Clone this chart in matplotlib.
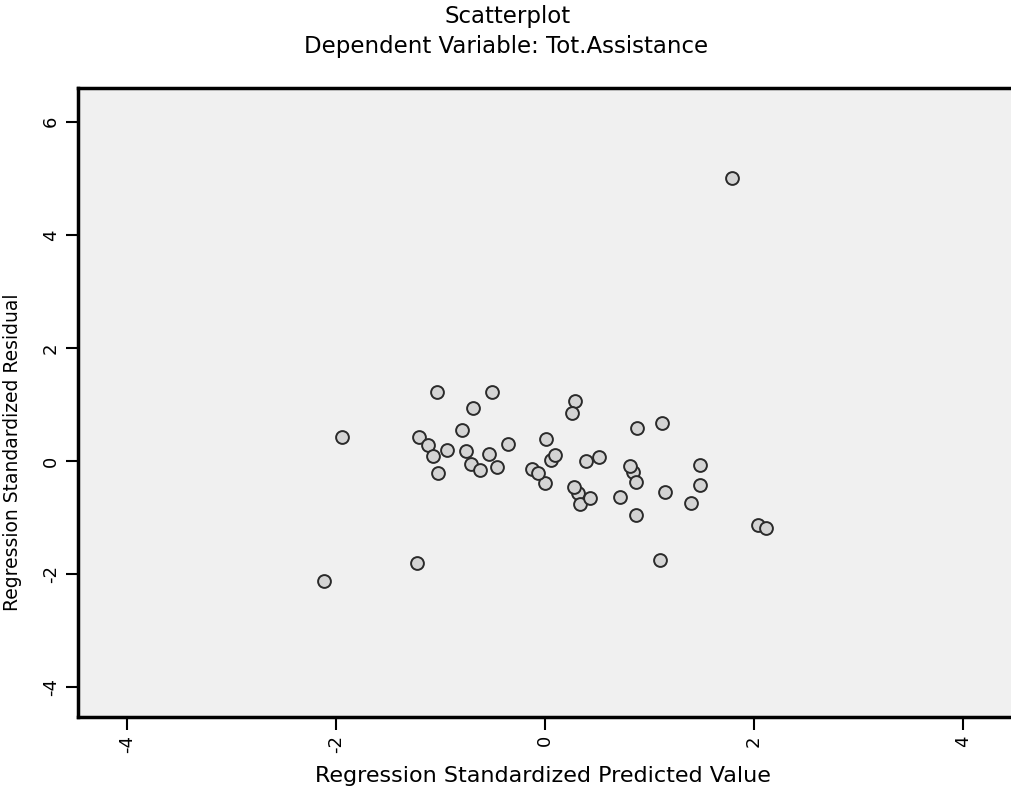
import numpy as np
import matplotlib
matplotlib.use("Agg")
import matplotlib.pyplot as plt

plt.rcParams['font.family'] = ['DejaVu Sans']

# Regression standardized predicted values (x) and residuals (y)
pred_std = [1.79, -1.94, -2.11, -1.22, 1.10,
            -1.03, -0.51, -0.69, -0.79, -1.21, -1.12, -0.94, -1.07, -1.02,
            -0.76, -0.71, -0.54, -0.46, -0.35, 0.01, -0.12, 0.06, 0.00,
            0.29, 0.26, 0.39, 0.52, 0.32, 0.34, 0.88, 1.12, 0.84, 0.87,
            0.72, 0.87, 1.15, 1.48, 1.48, 1.40, 2.04, 2.12,
            0.28, 0.10, -0.62, -0.07, 0.81, 0.43]
resid_std = [5.01, 0.42, -2.12, -1.81, -1.75,
             1.22, 1.22, 0.94, 0.55, 0.42, 0.28, 0.19, 0.09, -0.21,
             0.18, -0.05, 0.12, -0.11, 0.30, 0.39, -0.14, 0.02, -0.39,
             1.06, 0.85, 0.00, 0.07, -0.57, -0.76, 0.58, 0.67, -0.19, -0.37,
             -0.64, -0.96, -0.55, -0.07, -0.42, -0.74, -1.13, -1.19,
             -0.46, 0.11, -0.16, -0.21, -0.09, -0.65]

x_ticks = [-4, -2, 0, 2, 4]
y_ticks = [-4, -2, 0, 2, 4, 6]

fig = plt.figure(figsize=(10.11, 7.98), dpi=100)
ax = fig.add_axes([0.077, 0.1015, 0.923, 0.7885])
ax.set_facecolor('#f0f0f0')

ax.scatter(pred_std, resid_std, s=85, facecolors='#d4d4d4',
           edgecolors='#2a2a2a', linewidths=1.4, zorder=3)

ax.set_xlim(-4.47, 4.46)
ax.set_ylim(-4.53, 6.60)
ax.set_xticks(x_ticks)
ax.set_yticks(y_ticks)
ax.set_xticklabels([str(v) for v in x_ticks], rotation=90, fontsize=13)
ax.set_yticklabels([str(v) for v in y_ticks], rotation=90, fontsize=13,
                   va='center')
ax.tick_params(direction='out', length=9, width=1.5, color='black', pad=4)

for side in ['left', 'bottom', 'top']:
    ax.spines[side].set_linewidth(2.5)
    ax.spines[side].set_color('black')
ax.spines['right'].set_visible(False)

# label positions nudged to sit where the SPSS output puts them
ax.set_xlabel('Regression Standardized Predicted Value', fontsize=16)
ax.xaxis.set_label_coords(0.498, -0.078)
ax.set_ylabel('Regression Standardized Residual', fontsize=13.5)
ax.yaxis.set_label_coords(-0.06, 0.42)

fig.text(0.502, 0.979, 'Scatterplot', ha='center', va='center', fontsize=16.5)
fig.text(0.501, 0.942, 'Dependent Variable: Tot.Assistance', ha='center',
         va='center', fontsize=16.5)

fig.savefig('out.png', dpi=100, facecolor='white')
